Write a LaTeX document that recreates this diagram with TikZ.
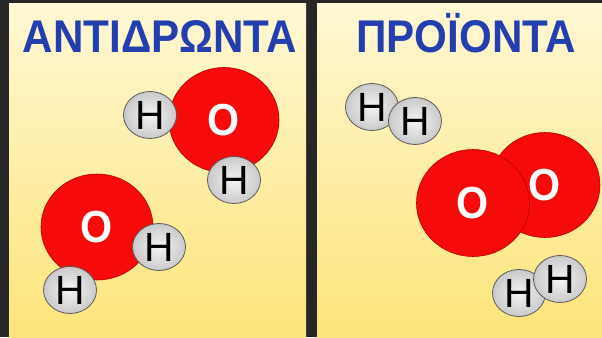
\documentclass[tikz,border=0pt]{standalone}
\usepackage{fontspec}
\setmainfont{Liberation Sans}
\newfontfamily\titlefont[FakeStretch=0.92]{Liberation Sans}
\usetikzlibrary{shapes.geometric}

\definecolor{frame}{RGB}{38,38,38}
\definecolor{paperTop}{RGB}{255,248,212}
\definecolor{paperBot}{RGB}{253,228,122}
\definecolor{titleblue}{RGB}{34,62,175}
\definecolor{oxred}{RGB}{246,10,10}

\begin{document}
\begin{tikzpicture}[x=1bp,y=1bp,
  panel/.style={top color=paperTop,bottom color=paperBot},
  title/.style={anchor=base,text=titleblue,font=\titlefont\fontsize{46}{46}\selectfont\bfseries},
  oxygen/.style={ellipse,fill=oxred,draw=red!70!black,line width=0.6pt,inner sep=0pt,
    minimum width=110bp,minimum height=105bp,text=white,font=\titlefont\fontsize{45}{45}\selectfont\bfseries},
  hydrogen/.style={ellipse,draw=gray!70!black,line width=0.8pt,inner sep=0pt,
    inner color=gray!8,outer color=gray!42,minimum width=53bp,minimum height=47bp,
    font=\fontsize{41}{41}\selectfont}]

	% dark frame with the two panels
	\fill[frame] (0,0) rectangle (602,337);
	\fill[panel] (9,0) rectangle (306,333);
	\fill[panel] (317,0) rectangle (602,333);

	\node[title] (reac) at (160,285) {ΑΝΤΙΔΡΩΝΤΑ};
	\node[title] (prod) at (466,285) {ΠΡΟΪΟΝΤΑ};

	% two water molecules
	\node[oxygen] (1) at (224,217) {O};
	\node[hydrogen] (2) at (150,222) {H};
	\node[hydrogen] (3) at (234,157) {H};
	\node[oxygen, minimum width=112bp, minimum height=106bp] (4) at (97,110) {O};
	\node[hydrogen] (5) at (159,90) {H};
	\node[hydrogen] (6) at (70,47) {H};

	% hydrogen and oxygen molecules
	\node[hydrogen] (7) at (372,230) {H};
	\node[hydrogen] (8) at (415,216) {H};
	\node[oxygen] (9) at (545,152) {O};
	\node[oxygen, minimum width=113bp, minimum height=107bp] (10) at (473,134) {O};
	\node[hydrogen] (11) at (519,44) {H};
	\node[hydrogen] (12) at (560,58) {H};

\end{tikzpicture}
\end{document}
